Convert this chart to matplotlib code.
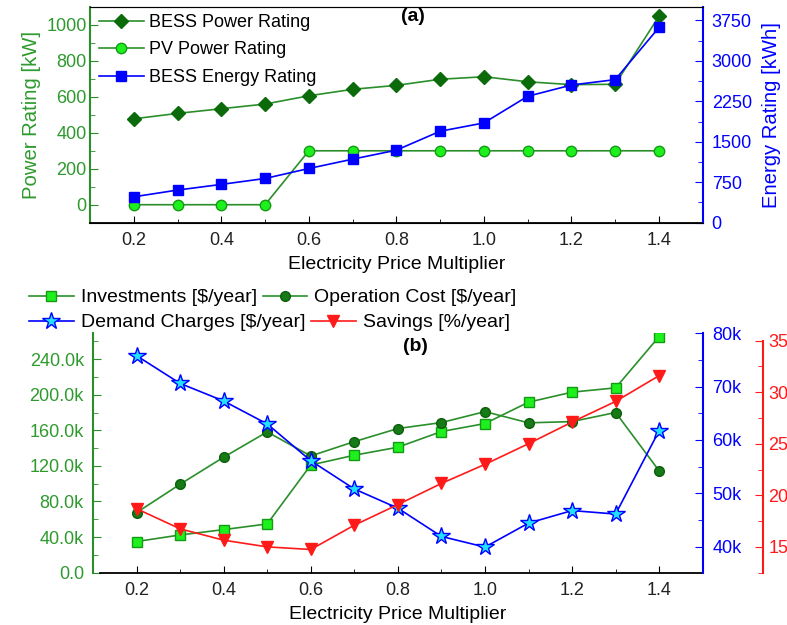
import matplotlib
matplotlib.use("Agg")
import matplotlib.pyplot as plt
from matplotlib.ticker import MultipleLocator, FuncFormatter

plt.rcParams['font.family'] = ['Liberation Sans', 'DejaVu Sans']

# ---- data ----
price_mult = [0.2, 0.3, 0.4, 0.5, 0.6, 0.7, 0.8, 0.9, 1.0, 1.1, 1.2, 1.3, 1.4]

bess_power_kw = [478, 508, 534, 560, 606, 642, 664, 698, 712, 684, 668, 670, 1048]
pv_power_kw = [0, 0, 0, 0, 300, 300, 300, 300, 300, 300, 300, 300, 300]
bess_energy_kwh = [480, 605, 710, 820, 1005, 1178, 1345, 1696, 1850, 2344, 2553, 2653, 3620]

investments = [35.0e3, 42.4e3, 48.4e3, 54.8e3, 121e3, 132e3, 141e3, 158.6e3, 167.6e3,
               191.6e3, 202.9e3, 207.7e3, 265.4e3]
operation_cost = [67.5e3, 99.4e3, 129.8e3, 158.2e3, 131.2e3, 147.3e3, 162e3, 168.7e3,
                  181e3, 168.4e3, 169.8e3, 180e3, 114.4e3]
demand_charges = [75.8e3, 70.6e3, 67.3e3, 63.0e3, 56.1e3, 50.8e3, 47.2e3, 41.9e3,
                  39.9e3, 44.4e3, 46.75e3, 46.1e3, 61.75e3]
savings_pct = [18.7, 16.75, 15.65, 15.0, 14.75, 17.1, 19.1, 21.15, 23.0, 25.0, 27.1, 29.1, 31.6]

GREEN = '#2a8f2a'
GREEN_TXT = '#2e9a2e'
DGREEN = '#0b6b0b'
LIME = '#1ef01e'
BLUE = '#0000ff'
RED = '#ff1a1a'
CYAN = '#22e0ff'

fig = plt.figure(figsize=(7.87, 6.25), dpi=100)

# ================= panel (a) =================
ax1 = fig.add_axes([0.1144, 0.6437, 0.7785, 0.3451])
ax1b = ax1.twinx()

l1, = ax1.plot(price_mult, bess_power_kw, color=GREEN, lw=1.2, marker='D', ms=7.5,
               mfc=DGREEN, mec=DGREEN, label='BESS Power Rating')
l2, = ax1.plot(price_mult, pv_power_kw, color=GREEN, lw=1.2, marker='o', ms=7.5,
               mfc=LIME, mec='#149a14', label='PV Power Rating')
l3, = ax1b.plot(price_mult, bess_energy_kwh, color=BLUE, lw=1.2, marker='s', ms=6.5,
                mfc=BLUE, mec=BLUE, label='BESS Energy Rating')

ax1.set_xlim(0.1, 1.5)
ax1.set_ylim(-100, 1100)
ax1b.set_ylim(0, 4000)
ax1.xaxis.set_major_locator(MultipleLocator(0.2))
ax1.xaxis.set_minor_locator(MultipleLocator(0.1))
ax1.xaxis.set_major_formatter(FuncFormatter(lambda v, p: f"{v:.1f}"))
ax1.yaxis.set_major_locator(MultipleLocator(200))
ax1.yaxis.set_minor_locator(MultipleLocator(100))
ax1b.set_yticks([0, 750, 1500, 2250, 3000, 3750])
ax1b.yaxis.set_minor_locator(MultipleLocator(375))

ax1.tick_params(axis='both', which='both', direction='in', labelsize=13)
ax1.tick_params(axis='y', which='major', length=6, colors=GREEN, labelcolor=GREEN_TXT, pad=2.5)
ax1.tick_params(axis='y', which='minor', length=3.5, colors=GREEN)
ax1.tick_params(axis='x', which='major', length=5, labelcolor='#222222', pad=6.5)
ax1.tick_params(axis='x', which='minor', length=3)
ax1b.tick_params(axis='y', which='both', direction='in', labelsize=13, colors=BLUE)
ax1b.tick_params(axis='y', which='major', length=6, pad=6.5)
ax1b.tick_params(axis='y', which='minor', length=3.5)

ax1.spines['left'].set_color(GREEN)
ax1.spines['left'].set_linewidth(1.5)
ax1b.spines['left'].set_visible(False)
ax1b.spines['right'].set_color(BLUE)
ax1b.spines['right'].set_linewidth(1.5)
ax1.spines['right'].set_visible(False)
ax1.spines['bottom'].set_linewidth(1.3)
ax1.spines['top'].set_color('#444444')

ax1.set_xlabel('Electricity Price Multiplier', fontsize=14, labelpad=5)
ax1.set_ylabel('Power Rating [kW]', fontsize=14.6, color=GREEN_TXT, labelpad=4)
ax1b.set_ylabel('Energy Rating [kWh]', fontsize=14.6, color=BLUE, labelpad=7)
ax1.text(0.527, 0.955, '(a)', transform=ax1.transAxes, fontsize=14, fontweight='bold',
         ha='center', va='center')

leg1 = ax1.legend(handles=[l1, l2, l3], loc='upper left', bbox_to_anchor=(0.014, 0.968),
                  frameon=False, fontsize=13, handlelength=2.5, handletextpad=0.3,
                  labelspacing=0.58, borderpad=0, borderaxespad=0)

# ================= panel (b) =================
ax2 = fig.add_axes([0.1182, 0.0837, 0.7747, 0.383])
ax2b = ax2.twinx()
ax2c = ax2.twinx()

h1, = ax2.plot(price_mult, investments, color=GREEN, lw=1.2, marker='s', ms=7,
               mfc=LIME, mec='#149a14', label='Investments [$/year]')
h2, = ax2.plot(price_mult, operation_cost, color=GREEN, lw=1.2, marker='o', ms=7,
               mfc='#167a16', mec='#0d5e0d', label='Operation Cost [$/year]')
h3, = ax2b.plot(price_mult, demand_charges, color=BLUE, lw=1.2, marker='*', ms=13,
                mfc=CYAN, mec=BLUE, mew=1.0, label='Demand Charges [$/year]')
h4, = ax2c.plot(price_mult, savings_pct, color=RED, lw=1.2, marker='v', ms=8,
                mfc=RED, mec=RED, label='Savings [%/year]')

ax2.set_xlim(0.1, 1.5)
ax2.set_ylim(0, 269e3)
ax2b.set_ylim(35.1e3, 80e3)
ax2c.set_ylim(12.5, 35.7)
ax2.xaxis.set_major_locator(MultipleLocator(0.2))
ax2.xaxis.set_minor_locator(MultipleLocator(0.1))
ax2.xaxis.set_major_formatter(FuncFormatter(lambda v, p: f"{v:.1f}"))
ax2.yaxis.set_major_locator(MultipleLocator(40e3))
ax2.yaxis.set_minor_locator(MultipleLocator(20e3))
ax2.yaxis.set_major_formatter(FuncFormatter(lambda v, p: "0.0" if v == 0 else f"{v/1000:.1f}k"))
ax2b.yaxis.set_major_locator(MultipleLocator(10e3))
ax2b.yaxis.set_minor_locator(MultipleLocator(5e3))
ax2b.yaxis.set_major_formatter(FuncFormatter(lambda v, p: f"{v/1000:.0f}k"))
ax2c.set_yticks([15, 20, 25, 30, 35])
ax2c.set_yticks([12.5, 17.5, 22.5, 27.5, 32.5], minor=True)

ax2.tick_params(axis='both', which='both', direction='in', labelsize=13)
ax2.tick_params(axis='y', which='major', length=6, colors=GREEN, labelcolor=GREEN_TXT, pad=6.5)
ax2.tick_params(axis='y', which='minor', length=3.5, colors=GREEN)
ax2.tick_params(axis='x', which='major', length=5, labelcolor='#222222', pad=6.5)
ax2.tick_params(axis='x', which='minor', length=3)
for a, c, pd_ in ((ax2b, BLUE, 7), (ax2c, RED, 3.5)):
    a.tick_params(axis='y', which='both', direction='in', labelsize=13, colors=c)
    a.tick_params(axis='y', which='major', length=6, pad=pd_)
    a.tick_params(axis='y', which='minor', length=3.5)
    a.spines['right'].set_color(c)
    a.spines['right'].set_linewidth(1.5)
    for s in ('left', 'top', 'bottom'):
        a.spines[s].set_visible(False)

ax2c.spines['right'].set_position(('outward', 43.6))
ax2c.spines['right'].set_bounds(12.5, 35)
ax2.spines['top'].set_visible(False)
ax2.spines['right'].set_visible(False)
ax2.spines['left'].set_color(GREEN)
ax2.spines['left'].set_linewidth(1.5)
ax2.spines['bottom'].set_linewidth(1.3)
ax2.spines['bottom'].set_bounds(0.116, 1.5)

ax2.set_xlabel('Electricity Price Multiplier', fontsize=14, labelpad=5)
ax2.text(0.528, 0.945, '(b)', transform=ax2.transAxes, fontsize=14, fontweight='bold',
         ha='center', va='center')

legkw = dict(frameon=False, fontsize=14, handlelength=2.3, handletextpad=0.35,
             columnspacing=0.3, borderpad=0, borderaxespad=0, ncol=2, loc='upper left')
lg_a = fig.legend(handles=[h1, h2], bbox_to_anchor=(0.037, 0.538), **legkw)
lg_b = fig.legend(handles=[h3, h4], bbox_to_anchor=(0.037, 0.498), **legkw)

fig.savefig('out.png', dpi=100)
